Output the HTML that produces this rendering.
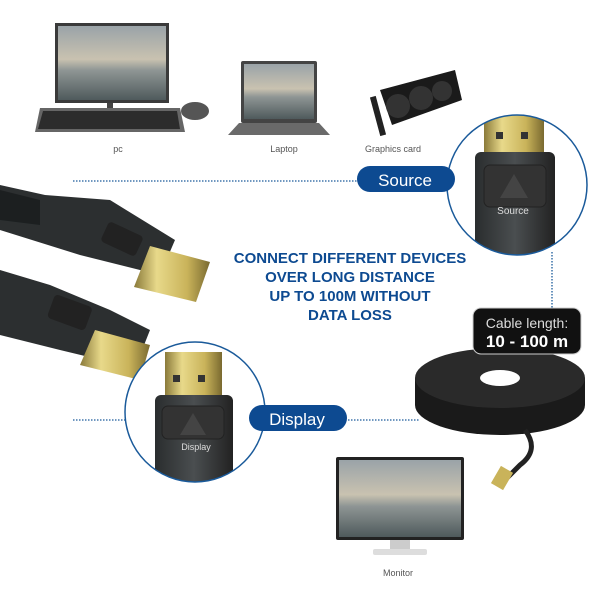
<!DOCTYPE html>
<html><head><meta charset="utf-8"><style>
html,body{margin:0;padding:0;background:#fff;width:600px;height:600px;overflow:hidden}
svg{display:block}
text{font-family:"Liberation Sans",sans-serif}
</style></head><body>
<svg width="600" height="600" viewBox="0 0 600 600" xmlns="http://www.w3.org/2000/svg">
<defs>
<linearGradient id="scr" x1="0" y1="0" x2="0" y2="1">
<stop offset="0" stop-color="#9aa3a8"/><stop offset="0.45" stop-color="#c9c2b0"/><stop offset="0.6" stop-color="#8e9594"/><stop offset="1" stop-color="#4f5a5c"/></linearGradient>
<linearGradient id="gold" x1="0" y1="0" x2="1" y2="0">
<stop offset="0" stop-color="#8a7a3a"/><stop offset="0.3" stop-color="#e8d98a"/><stop offset="0.7" stop-color="#c9b35a"/><stop offset="1" stop-color="#7a6a30"/></linearGradient>
<linearGradient id="body" x1="0" y1="0" x2="1" y2="0">
<stop offset="0" stop-color="#2a2d2e"/><stop offset="0.5" stop-color="#4a4e50"/><stop offset="1" stop-color="#222"/></linearGradient>
<clipPath id="c1"><circle cx="517" cy="185" r="70"/></clipPath>
<clipPath id="c2"><circle cx="195" cy="412" r="70"/></clipPath>
</defs>

<rect x="55" y="23" width="114" height="80" fill="#3a3a3a"/>
<rect x="58" y="26" width="108" height="74" fill="url(#scr)"/>
<rect x="107" y="103" width="6" height="9" fill="#444"/>
<polygon points="40,108 180,108 185,132 35,132" fill="#666"/>
<polygon points="43,111 177,111 180,129 38,129" fill="#2c2c2c"/>
<ellipse cx="195" cy="111" rx="14" ry="9" fill="#555"/>
<rect x="241" y="61" width="76" height="62" rx="2" fill="#444"/>
<rect x="244" y="64" width="70" height="55" fill="url(#scr)"/>
<polygon points="239,123 319,123 330,135 228,135" fill="#6a6a6a"/>
<polygon points="380,90 455,70 462,100 392,125" fill="#1a1a1a"/>
<circle cx="398" cy="106" r="12" fill="#333"/><circle cx="421" cy="98" r="12" fill="#333"/><circle cx="442" cy="91" r="10" fill="#333"/>
<rect x="375" y="96" width="6" height="40" fill="#222" transform="rotate(-15 378 116)"/>
<text x="118" y="152" font-size="9" fill="#555" text-anchor="middle">pc</text>
<text x="284" y="152" font-size="9" fill="#555" text-anchor="middle">Laptop</text>
<text x="393" y="152" font-size="9" fill="#555" text-anchor="middle">Graphics card</text>

<line x1="73" y1="181" x2="360" y2="181" stroke="#1a5a9a" stroke-width="1.3" stroke-dasharray="1.5 1.5"/>
<line x1="552" y1="252" x2="552" y2="315" stroke="#1a5a9a" stroke-width="1.3" stroke-dasharray="1.5 1.5"/>
<line x1="73" y1="420" x2="127" y2="420" stroke="#1a5a9a" stroke-width="1.3" stroke-dasharray="1.5 1.5"/>
<line x1="345" y1="420" x2="420" y2="420" stroke="#1a5a9a" stroke-width="1.3" stroke-dasharray="1.5 1.5"/>

<circle cx="517" cy="185" r="70" fill="#fff"/>
<g clip-path="url(#c1)">
<rect x="484" y="110" width="60" height="56" fill="url(#gold)"/>
<rect x="496" y="132" width="7" height="7" fill="#333"/><rect x="521" y="132" width="7" height="7" fill="#333"/>
<rect x="475" y="152" width="80" height="140" rx="6" fill="url(#body)"/>
<rect x="484" y="165" width="62" height="42" rx="6" fill="#333" stroke="#222"/>
<polygon points="514,174 500,198 528,198" fill="#444"/>
<text x="513" y="214" font-size="10" fill="#ddd" text-anchor="middle">Source</text>
</g>
<circle cx="517" cy="185" r="70" fill="none" stroke="#1a5a9a" stroke-width="1.5"/>
<rect x="357" y="166" width="98" height="26" rx="13" fill="#0d4a91"/>
<text x="405" y="186" font-size="17" fill="#fff" text-anchor="middle">Source</text>

<path d="M0,185 L45,195 L110,200 L175,240 L160,275 L80,255 L0,230 Z" fill="#2c2f30"/>
<path d="M0,190 L40,200 L40,225 L0,220Z" fill="#1c1f20"/>
<rect x="103" y="228" width="38" height="22" rx="4" fill="#222" transform="rotate(25 122 239)"/>
<polygon points="150,246 210,262 196,302 134,287" fill="url(#gold)"/>
<path d="M0,270 L50,285 L110,310 L150,330 L135,368 L60,350 L0,335 Z" fill="#2c2f30"/>
<rect x="50" y="300" width="40" height="25" rx="4" fill="#222" transform="rotate(20 70 312)"/>
<polygon points="95,330 150,345 140,380 80,365" fill="url(#gold)"/>

<g font-size="15" font-weight="bold" fill="#0d4a91" text-anchor="middle">
<text x="350" y="263">CONNECT DIFFERENT DEVICES</text>
<text x="350" y="282">OVER LONG DISTANCE</text>
<text x="350" y="301">UP TO 100M WITHOUT</text>
<text x="350" y="320">DATA LOSS</text>
</g>

<circle cx="195" cy="412" r="70" fill="#fff"/>
<g clip-path="url(#c2)">
<rect x="165" y="352" width="57" height="60" fill="url(#gold)"/>
<rect x="173" y="375" width="7" height="7" fill="#333"/><rect x="198" y="375" width="7" height="7" fill="#333"/>
<rect x="155" y="395" width="78" height="120" rx="6" fill="url(#body)"/>
<rect x="162" y="406" width="62" height="33" rx="6" fill="#333" stroke="#222"/>
<polygon points="193,413 180,435 206,435" fill="#444"/>
<text x="196" y="450" font-size="9" fill="#ddd" text-anchor="middle">Display</text>
</g>
<circle cx="195" cy="412" r="70" fill="none" stroke="#1a5a9a" stroke-width="1.5"/>
<rect x="249" y="405" width="98" height="26" rx="13" fill="#0d4a91"/>
<text x="297" y="425" font-size="17" fill="#fff" text-anchor="middle">Display</text>

<ellipse cx="500" cy="405" rx="85" ry="30" fill="#1a1a1a"/>
<rect x="415" y="378" width="170" height="27" fill="#1a1a1a"/>
<ellipse cx="500" cy="378" rx="85" ry="30" fill="#2a2a2a"/>
<ellipse cx="500" cy="378" rx="20" ry="8" fill="#fff"/>
<path d="M525,430 Q540,450 520,465 L505,480" stroke="#222" stroke-width="5" fill="none"/>
<rect x="495" y="468" width="14" height="20" fill="#c9b35a" transform="rotate(30 502 478)"/>
<rect x="473" y="308" width="108" height="46" rx="8" fill="#111" stroke="#ccc"/>
<text x="527" y="328" font-size="14" fill="#ddd" text-anchor="middle">Cable length:</text>
<text x="527" y="347" font-size="17" font-weight="bold" fill="#fff" text-anchor="middle">10 - 100 m</text>

<rect x="336" y="457" width="128" height="83" rx="2" fill="#222"/>
<rect x="339" y="460" width="122" height="77" fill="url(#scr)"/>
<rect x="390" y="540" width="20" height="9" fill="#ccc"/>
<rect x="373" y="549" width="54" height="6" rx="2" fill="#ddd"/>
<text x="398" y="576" font-size="9" fill="#555" text-anchor="middle">Monitor</text>
</svg>
</body></html>
